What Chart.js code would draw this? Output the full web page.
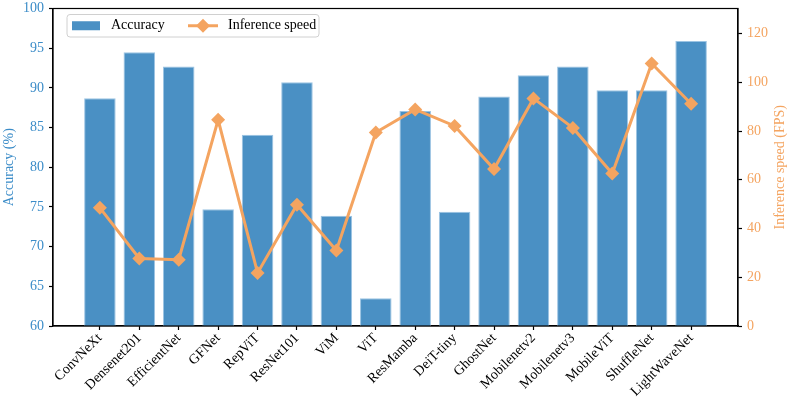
<!DOCTYPE html>
<html>
<head>
<meta charset="utf-8">
<script src="https://cdn.jsdelivr.net/npm/chart.js@4.4.0/dist/chart.umd.min.js"></script>
<style>
  html, body { margin: 0; padding: 0; background: #fff; }
  #wrap { width: 789px; height: 401px; }
</style>
</head>
<body>
<div id="wrap"><canvas id="myChart"></canvas></div>
<script>
// data
var models = ['ConvNeXt', 'Densenet201', 'EfficientNet', 'GFNet', 'RepViT', 'ResNet101', 'ViM', 'ViT',
              'ResMamba', 'DeiT-tiny', 'GhostNet', 'Mobilenetv2', 'Mobilenetv3', 'MobileViT', 'ShuffleNet', 'LightWaveNet'];
var accuracy = [88.7, 94.5, 92.7, 74.7, 84.1, 90.7, 73.9, 63.5, 87.1, 74.4, 88.9, 91.6, 92.7, 89.7, 89.7, 95.9];
var speed = [48.5, 27.7, 27.2, 84.6, 21.8, 49.8, 31.0, 79.4, 88.9, 82.1, 64.4, 93.4, 81.3, 62.6, 107.7, 91.2];
var accTicks = [60, 65, 70, 75, 80, 85, 90, 95, 100];
var speedTicks = [0, 20, 40, 60, 80, 100, 120];

var blue = '#4a90c4';
var blueText = '#3b8cc8';
var orange = '#f4a460';
var font = 'Liberation Serif';

// frame, axis titles and legend drawn by hand (legend sits inside the plot)
var extras = {
    id: 'extras',
    afterDraw: function (chart) {
        var ctx = chart.ctx;
        var a = chart.chartArea;
        ctx.save();
        ctx.strokeStyle = '#000';
        ctx.lineWidth = 1.2;
        ctx.strokeRect(a.left, a.top, a.right - a.left, a.bottom - a.top);

        ctx.font = '14px "' + font + '"';
        ctx.textAlign = 'center';
        ctx.textBaseline = 'middle';
        var midY = (a.top + a.bottom) / 2;
        ctx.fillStyle = blueText;
        ctx.translate(9, midY);
        ctx.rotate(-Math.PI / 2);
        ctx.fillText('Accuracy (%)', 0, 0);
        ctx.setTransform(1, 0, 0, 1, 0, 0);
        ctx.fillStyle = orange;
        ctx.translate(780, midY);
        ctx.rotate(-Math.PI / 2);
        ctx.fillText('Inference speed (FPS)', 0, 0);
        ctx.setTransform(1, 0, 0, 1, 0, 0);

        // legend
        var lx = 67, ly = 14.5, lw = 252, lh = 22.5;
        ctx.beginPath();
        ctx.roundRect(lx, ly, lw, lh, 3);
        ctx.fillStyle = 'rgba(255,255,255,0.85)';
        ctx.fill();
        ctx.strokeStyle = '#d0d0d0';
        ctx.lineWidth = 1;
        ctx.stroke();
        var cy = ly + lh / 2;
        ctx.fillStyle = blue;
        ctx.fillRect(72, cy - 4.5, 28, 9);
        ctx.fillStyle = '#000';
        ctx.textAlign = 'left';
        ctx.fillText('Accuracy', 111, cy);
        ctx.strokeStyle = orange;
        ctx.lineWidth = 3;
        ctx.beginPath();
        ctx.moveTo(188, cy);
        ctx.lineTo(218, cy);
        ctx.stroke();
        ctx.fillStyle = orange;
        ctx.beginPath();
        ctx.moveTo(203, cy - 7);
        ctx.lineTo(210, cy);
        ctx.lineTo(203, cy + 7);
        ctx.lineTo(196, cy);
        ctx.closePath();
        ctx.fill();
        ctx.fillStyle = '#000';
        ctx.fillText('Inference speed', 228, cy);
        ctx.restore();
    }
};

var barData = models.map(function (m, i) { return { x: i, y: accuracy[i] }; });
var lineData = models.map(function (m, i) { return { x: i, y: speed[i] }; });

new Chart(document.getElementById('myChart'), {
    data: {
        datasets: [
            {
                type: 'line',
                label: 'Inference speed',
                data: lineData,
                yAxisID: 'ySpd',
                borderColor: orange,
                backgroundColor: orange,
                borderWidth: 3,
                pointStyle: 'rectRot',
                pointRadius: 7,
                pointBorderWidth: 0,
                tension: 0,
                order: 0
            },
            {
                type: 'bar',
                label: 'Accuracy',
                data: barData,
                yAxisID: 'yAcc',
                backgroundColor: blue,
                borderColor: '#9cc4e3',
                borderWidth: 1,
                barPercentage: 0.8,
                categoryPercentage: 1,
                order: 1
            }
        ]
    },
    options: {
        responsive: true,
        maintainAspectRatio: false,
        animation: false,
        layout: { padding: { top: 7, left: 0, right: 0, bottom: 0 } },
        plugins: {
            legend: { display: false },
            tooltip: { enabled: false }
        },
        scales: {
            x: {
                type: 'linear',
                offset: false,
                min: -1.19,
                max: 16.19,
                afterBuildTicks: function (scale) {
                    scale.ticks = models.map(function (m, i) { return { value: i }; });
                },
                afterFit: function (scale) { scale.height = 75; },
                ticks: {
                    autoSkip: false,
                    minRotation: 45,
                    maxRotation: 45,
                    color: '#000',
                    font: { family: font, size: 14 },
                    padding: 0,
                    callback: function (v) { return models[v]; }
                },
                grid: { offset: false, drawOnChartArea: false, drawTicks: true, tickLength: 4, tickColor: '#000', tickWidth: 1.2 },
                border: { display: true, color: '#000', width: 1.2 }
            },
            yAcc: {
                type: 'linear',
                position: 'left',
                min: 60,
                max: 100,
                afterBuildTicks: function (scale) {
                    scale.ticks = accTicks.map(function (v) { return { value: v }; });
                },
                afterFit: function (scale) { scale.width = 53; },
                ticks: { color: blueText, font: { family: font, size: 14, lineHeight: 0.5 }, padding: 5 },
                grid: { drawOnChartArea: false, drawTicks: true, tickLength: 4, tickColor: '#000', tickWidth: 1.2 },
                border: { display: true, color: '#000', width: 1.2 }
            },
            ySpd: {
                type: 'linear',
                position: 'right',
                min: 0,
                max: 130.3,
                afterBuildTicks: function (scale) {
                    scale.ticks = speedTicks.map(function (v) { return { value: v }; });
                },
                afterFit: function (scale) { scale.width = 51; },
                ticks: { color: orange, font: { family: font, size: 14, lineHeight: 0.5 }, padding: 5 },
                grid: { drawOnChartArea: false, drawTicks: true, tickLength: 4, tickColor: '#000', tickWidth: 1.2 },
                border: { display: true, color: '#000', width: 1.2 }
            }
        }
    },
    plugins: [extras]
});
</script>
</body>
</html>
